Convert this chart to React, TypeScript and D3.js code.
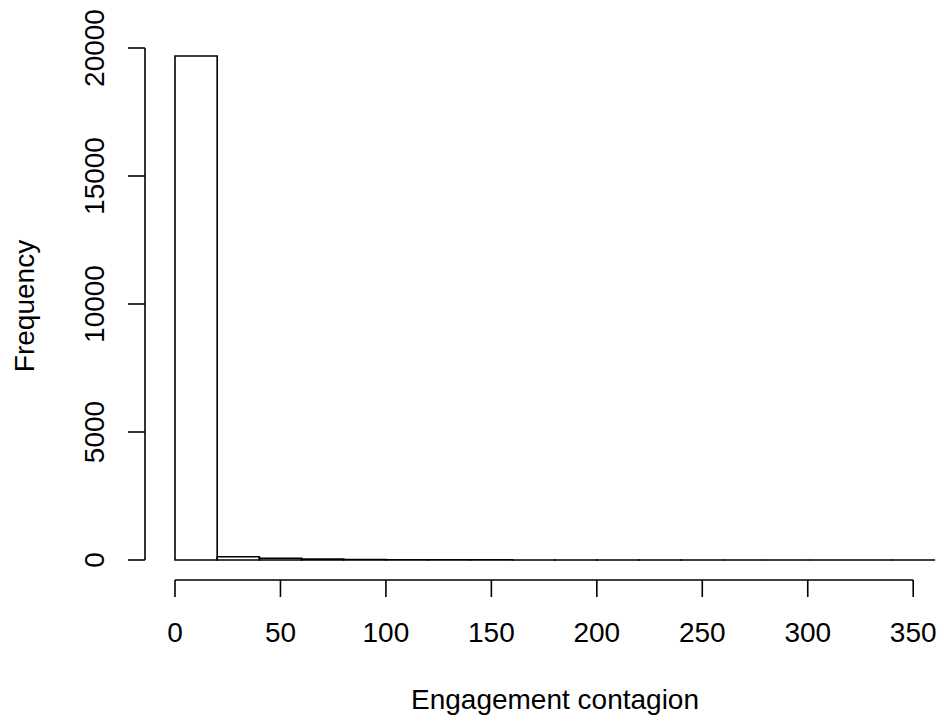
import React, { useRef, useEffect } from 'react';
import * as d3 from 'd3';

// Bin edges (width 20) and counts of the histogram
const binStarts = [0, 20, 40, 60, 80, 100, 120, 140, 160, 180, 200, 220, 240, 260, 280, 300, 320, 340];
const binWidth = 20;
const counts = [19690, 125, 70, 35, 15, 8, 5, 3, 2, 2, 1, 1, 1, 0, 1, 0, 0, 1];

const xTicks = [0, 50, 100, 150, 200, 250, 300, 350];
const yTicks = [0, 5000, 10000, 15000, 20000];

const App: React.FC = () => {
    const ref = useRef<HTMLDivElement>(null);

    useEffect(() => {
        document.body.style.margin = '0';
        const container = d3.select(ref.current);
        container.selectAll("*").remove();

        const width = 943;
        const height = 720;
        const font = "Liberation Sans, Arial, sans-serif";
        const fs = 28;
        const lw = 1.6;

        const svg = container.append("svg")
            .attr("width", width)
            .attr("height", height)
            .style("display", "block")
            .style("background", "#fff");

        // Scales
        const x = d3.scaleLinear().domain([0, 350]).range([175, 913.2]);
        const y = d3.scaleLinear().domain([0, 20000]).range([560, 48]);

        // Bars (drawn as closed paths so empty bins still show on the baseline)
        svg.selectAll(".bar")
            .data(binStarts)
            .enter()
            .append("path")
            .attr("class", "bar")
            .attr("d", (d, i) => {
                const p = d3.path();
                p.moveTo(x(d), y(0));
                p.lineTo(x(d), y(counts[i]));
                p.lineTo(x(d + binWidth), y(counts[i]));
                p.lineTo(x(d + binWidth), y(0));
                p.closePath();
                return p.toString();
            })
            .style("fill", "none")
            .style("stroke", "#000")
            .style("stroke-width", lw);

        // X axis
        const xAxisY = 580;
        const tickLen = 17;
        svg.append("line")
            .attr("x1", x(0)).attr("x2", x(350))
            .attr("y1", xAxisY).attr("y2", xAxisY)
            .style("stroke", "#000").style("stroke-width", lw);
        svg.selectAll(".xtick")
            .data(xTicks)
            .enter()
            .append("line")
            .attr("x1", d => x(d)).attr("x2", d => x(d))
            .attr("y1", xAxisY).attr("y2", xAxisY + tickLen)
            .style("stroke", "#000").style("stroke-width", lw);
        svg.selectAll(".xlabel")
            .data(xTicks)
            .enter()
            .append("text")
            .attr("x", d => x(d))
            .attr("y", 641.5)
            .attr("text-anchor", "middle")
            .style("font-family", font)
            .style("font-size", `${fs}px`)
            .text(d => d);

        // Y axis
        const yAxisX = 145;
        svg.append("line")
            .attr("x1", yAxisX).attr("x2", yAxisX)
            .attr("y1", y(0)).attr("y2", y(20000))
            .style("stroke", "#000").style("stroke-width", lw);
        svg.selectAll(".ytick")
            .data(yTicks)
            .enter()
            .append("line")
            .attr("x1", yAxisX - tickLen).attr("x2", yAxisX)
            .attr("y1", d => y(d)).attr("y2", d => y(d))
            .style("stroke", "#000").style("stroke-width", lw);
        svg.selectAll(".ylabel")
            .data(yTicks)
            .enter()
            .append("text")
            .attr("transform", d => `translate(104,${y(d)}) rotate(-90)`)
            .attr("text-anchor", "middle")
            .style("font-family", font)
            .style("font-size", `${fs}px`)
            .text(d => d);

        // Axis titles
        svg.append("text")
            .attr("x", 555)
            .attr("y", 709)
            .attr("text-anchor", "middle")
            .style("font-family", font)
            .style("font-size", `${fs}px`)
            .text("Engagement contagion");

        svg.append("text")
            .attr("transform", "translate(33.5,306) rotate(-90)")
            .attr("text-anchor", "middle")
            .style("font-family", font)
            .style("font-size", `${fs}px`)
            .text("Frequency");
    }, []);

    return <div ref={ref} />;
};

export default App;
